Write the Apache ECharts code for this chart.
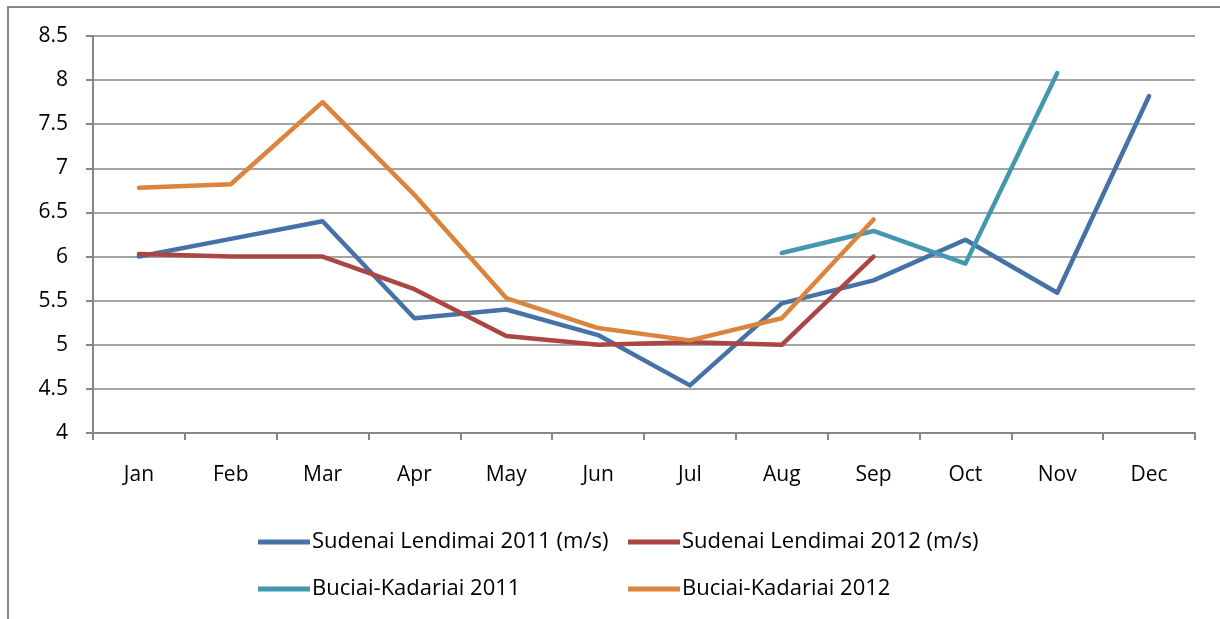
<!DOCTYPE html>
<html>
<head>
<meta charset="utf-8">
<script src="https://cdn.jsdelivr.net/npm/echarts@6/dist/echarts.min.js"></script>
<style>
  html, body { margin: 0; padding: 0; background: #fff; }
  #chart { width: 1220px; height: 619px; }
</style>
</head>
<body>
<div id="chart"></div>
<script>
var months = ["Jan", "Feb", "Mar", "Apr", "May", "Jun", "Jul", "Aug", "Sep", "Oct", "Nov", "Dec"];
var sudenai2011 = [6.0, 6.2, 6.4, 5.3, 5.4, 5.11, 4.54, 5.47, 5.73, 6.19, 5.59, 7.82];
var sudenai2012 = [6.03, 6.0, 6.0, 5.63, 5.1, 5.0, 5.03, 5.0, 6.0, null, null, null];
var buciai2011 = [null, null, null, null, null, null, null, 6.04, 6.29, 5.92, 8.08, null];
var buciai2012 = [6.78, 6.82, 7.75, 6.7, 5.53, 5.19, 5.05, 5.3, 6.42, null, null, null];

var names = [
  "Sudenai Lendimai 2011 (m/s)",
  "Sudenai Lendimai 2012 (m/s)",
  "Buciai-Kadariai 2011",
  "Buciai-Kadariai 2012"
];
var colors = ["#4572A7", "#AA4643", "#4198AF", "#DB843D"];
var font = "Open Sans";
var axisGrey = "#868686";

function line(name, data, color) {
  return {
    name: name,
    type: "line",
    data: data,
    symbol: "none",
    connectNulls: false,
    itemStyle: { color: color },
    lineStyle: { color: color, width: 4.5, cap: "round", join: "round" }
  };
}

function legendAt(left, items) {
  return {
    left: left,
    top: 526,
    orient: "vertical",
    itemGap: 25,
    itemWidth: 52,
    itemHeight: 5,
    icon: "rect",
    data: items,
    textStyle: { fontFamily: font, fontSize: 22, color: "#000", padding: [0, 0, 0, -3] }
  };
}

var chart = echarts.init(document.getElementById("chart"));
chart.setOption({
  animation: false,
  backgroundColor: "#fff",
  color: colors,
  graphic: [{
    type: "rect",
    shape: { x: 8, y: 7, width: 1240, height: 700 },
    style: { fill: "none", stroke: axisGrey, lineWidth: 2 },
    silent: true
  }],
  grid: { left: 93, right: 25, top: 36, bottom: 186 },
  legend: [
    legendAt(253, [names[0], names[2]]),
    legendAt(623, [names[1], names[3]])
  ],
  xAxis: {
    type: "category",
    data: months,
    boundaryGap: true,
    axisLine: { lineStyle: { color: axisGrey, width: 2 } },
    axisTick: { show: true, length: 7, lineStyle: { color: axisGrey, width: 2 } },
    axisLabel: { fontFamily: font, fontSize: 21, color: "#000", margin: 32 }
  },
  yAxis: {
    type: "value",
    min: 4,
    max: 8.5,
    interval: 0.5,
    axisLine: { show: true, lineStyle: { color: axisGrey, width: 2 } },
    axisTick: { show: true, length: 7, lineStyle: { color: axisGrey, width: 2 } },
    splitLine: { lineStyle: { color: axisGrey, width: 1.5 } },
    axisLabel: { fontFamily: font, fontSize: 21, color: "#000", margin: 25 }
  },
  series: [
    line(names[0], sudenai2011, colors[0]),
    line(names[1], sudenai2012, colors[1]),
    line(names[2], buciai2011, colors[2]),
    line(names[3], buciai2012, colors[3])
  ]
});
</script>
</body>
</html>
